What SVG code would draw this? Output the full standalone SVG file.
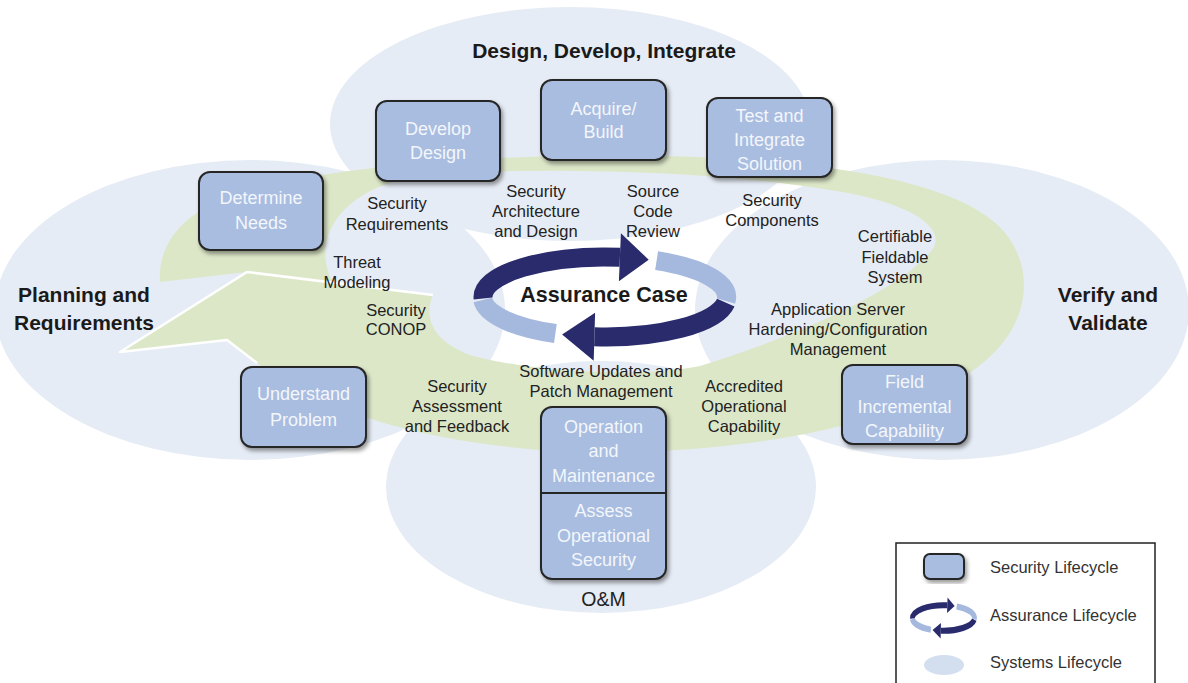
<svg xmlns="http://www.w3.org/2000/svg" xmlns:xlink="http://www.w3.org/1999/xlink" width="1188" height="683" viewBox="0 0 1188 683">
<style>
.ell{fill:#e6ecf5}
.box{fill:#a9bde0;stroke:#262626;stroke-width:2;filter:url(#sh)}
.bt{font-family:"Liberation Sans",Arial,sans-serif;font-size:18px;fill:#f3f6fb;text-anchor:middle}
.lb{font-family:"Liberation Sans",Arial,sans-serif;font-size:16.5px;fill:#222;text-anchor:middle}
.hd{font-family:"Liberation Sans",Arial,sans-serif;font-size:21px;font-weight:bold;fill:#1a1a1a;text-anchor:middle}
.lg{font-family:"Liberation Sans",Arial,sans-serif;font-size:16.5px;fill:#333}
.dk{fill:none;stroke:#292b6c;stroke-width:19}
.lt{fill:none;stroke:#a5b9de;stroke-width:19}
</style>
<defs>
<filter id="sh" x="-20%" y="-20%" width="140%" height="140%">
<feDropShadow dx="2" dy="3" stdDeviation="2" flood-color="#000" flood-opacity="0.4"/>
</filter>
<g id="ring">
<path class="lt" d="M 555.4 333.5 A 122 40 0 0 1 482.8 300"/>
<path class="dk" d="M 483.1 298.4 A 122 40 0 0 1 619.9 257.3"/>
<polygon fill="#292b6c" points="620.9,233.3 648.7,259.7 618.9,281.3"/>
<path class="lt" d="M 656.6 260.7 A 122 40 0 0 1 726 301"/>
<path class="dk" d="M 725.8 302.6 A 122 40 0 0 1 594.4 336.8"/>
<polygon fill="#292b6c" points="595.1,312.8 562.1,334.4 593.7,360.8"/>
</g>
</defs>
<rect width="1188" height="683" fill="#ffffff"/>
<g id="systems-lifecycle">
<ellipse class="ell" cx="570" cy="124" rx="240" ry="117"/>
<ellipse class="ell" cx="250" cy="310" rx="255" ry="150"/>
<ellipse class="ell" cx="942" cy="310" rx="247" ry="150"/>
<ellipse class="ell" cx="601" cy="487" rx="215" ry="126"/>
</g>
<g id="connectors">
<path fill="#dce7c8" d="M 160 282 C 158 250 175 225 205 208 C 260 180 380 160 560 156 C 760 152 920 170 985 215 C 1030 245 1035 300 1005 340 C 960 400 830 445 640 452 C 480 456 340 425 257 363 L 227 340 L 120 352 L 247 272 L 433 295 C 424 315 430 340 470 355 C 530 372 640 378 700 366 C 800 335 900 290 932 250 C 950 225 900 200 830 190 C 700 168 480 165 400 180 C 340 195 310 240 333 283 L 247 272 Z"/>
<path fill="none" stroke="#ffffff" stroke-width="2.5" stroke-linejoin="round" d="M 257 363 L 227 340 L 120 352 L 247 272 L 433 295"/>
</g>
<g id="assurance-case">
<use xlink:href="#ring" href="#ring"/>
<text class="hd" x="604" y="302" style="font-size:21.5px">Assurance Case</text>
</g>
<g id="phase-labels">
<text class="hd" x="604" y="58">Design, Develop, Integrate</text>
<text class="hd" x="84" y="302">Planning and</text>
<text class="hd" x="84" y="330">Requirements</text>
<text class="hd" x="1108" y="302">Verify and</text>
<text class="hd" x="1108" y="330">Validate</text>
</g>
<g id="activity-labels">
<text class="lb" x="397" y="209">Security</text>
<text class="lb" x="397" y="230">Requirements</text>
<text class="lb" x="536" y="197">Security</text>
<text class="lb" x="536" y="217">Architecture</text>
<text class="lb" x="536" y="237">and Design</text>
<text class="lb" x="653" y="197">Source</text>
<text class="lb" x="653" y="217">Code</text>
<text class="lb" x="653" y="237">Review</text>
<text class="lb" x="772" y="206">Security</text>
<text class="lb" x="772" y="226">Components</text>
<text class="lb" x="895" y="242">Certifiable</text>
<text class="lb" x="895" y="263">Fieldable</text>
<text class="lb" x="895" y="283">System</text>
<text class="lb" x="838" y="315">Application Server</text>
<text class="lb" x="838" y="335">Hardening/Configuration</text>
<text class="lb" x="838" y="355">Management</text>
<text class="lb" x="357" y="268">Threat</text>
<text class="lb" x="357" y="288">Modeling</text>
<text class="lb" x="396" y="316">Security</text>
<text class="lb" x="396" y="335">CONOP</text>
<text class="lb" x="457" y="392">Security</text>
<text class="lb" x="457" y="412">Assessment</text>
<text class="lb" x="457" y="432">and Feedback</text>
<text class="lb" x="601" y="377">Software Updates and</text>
<text class="lb" x="601" y="397">Patch Management</text>
<text class="lb" x="744" y="392">Accredited</text>
<text class="lb" x="744" y="412">Operational</text>
<text class="lb" x="744" y="432">Capability</text>
<text class="lb" x="603.5" y="606" style="font-size:19.5px">O&amp;M</text>
</g>
<g id="determine-needs">
<rect class="box" x="199" y="172" width="124" height="78" rx="11"/>
<text class="bt" x="261" y="204">Determine</text>
<text class="bt" x="261" y="229">Needs</text>
</g>
<g id="develop-design">
<rect class="box" x="376" y="101" width="124" height="80" rx="11"/>
<text class="bt" x="438" y="135">Develop</text>
<text class="bt" x="438" y="159">Design</text>
</g>
<g id="acquire-build">
<rect class="box" x="541" y="80" width="125" height="80" rx="11"/>
<text class="bt" x="603.5" y="115">Acquire/</text>
<text class="bt" x="603.5" y="138">Build</text>
</g>
<g id="test-integrate">
<rect class="box" x="707" y="98" width="125" height="79" rx="11"/>
<text class="bt" x="769.5" y="122">Test and</text>
<text class="bt" x="769.5" y="146">Integrate</text>
<text class="bt" x="769.5" y="170">Solution</text>
</g>
<g id="understand-problem">
<rect class="box" x="241" y="367" width="125" height="80" rx="11"/>
<text class="bt" x="303.5" y="400">Understand</text>
<text class="bt" x="303.5" y="426">Problem</text>
</g>
<g id="field-capability">
<rect class="box" x="842" y="365" width="125" height="79" rx="11"/>
<text class="bt" x="904.5" y="388">Field</text>
<text class="bt" x="904.5" y="413">Incremental</text>
<text class="bt" x="904.5" y="437">Capability</text>
</g>
<g id="operation-maintenance">
<rect class="box" x="541" y="407" width="125" height="172" rx="11"/>
<line x1="541" y1="493" x2="666" y2="493" stroke="#262626" stroke-width="2"/>
<text class="bt" x="603.5" y="433">Operation</text>
<text class="bt" x="603.5" y="457">and</text>
<text class="bt" x="603.5" y="482">Maintenance</text>
<text class="bt" x="603.5" y="517">Assess</text>
<text class="bt" x="603.5" y="542">Operational</text>
<text class="bt" x="603.5" y="566">Security</text>
</g>
<g id="legend">
<rect x="896" y="543" width="259" height="160" fill="#ffffff" stroke="#222" stroke-width="1.5"/>
<rect class="box" x="924" y="554" width="40" height="25" rx="6"/>
<text class="lg" x="990" y="573">Security Lifecycle</text>
<use xlink:href="#ring" href="#ring" transform="translate(943.5 618) scale(0.255 0.32) translate(-605 -297)"/>
<text class="lg" x="990" y="621">Assurance Lifecycle</text>
<ellipse cx="944" cy="665" rx="20" ry="10" fill="#d3deef"/>
<text class="lg" x="990" y="668">Systems Lifecycle</text>
</g>
</svg>
